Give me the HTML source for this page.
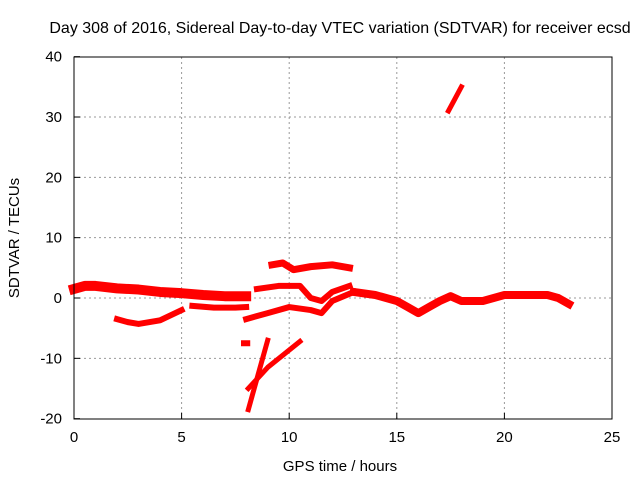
<!DOCTYPE html>
<html><head><meta charset="utf-8"><style>
body{margin:0;background:#fff;}
svg text{font-family:"Liberation Sans",sans-serif;font-size:15px;fill:#000;}
</style></head><body>
<svg id="chart" width="640" height="480" xmlns="http://www.w3.org/2000/svg">
<rect width="640" height="480" fill="#fff"/>
<text x="340" y="33" text-anchor="middle" style="font-size:16px">Day 308 of 2016, Sidereal Day-to-day VTEC variation (SDTVAR) for receiver ecsd</text>
<text x="340" y="471" text-anchor="middle">GPS time / hours</text>
<text transform="translate(19,238) rotate(-90)" text-anchor="middle">SDTVAR / TECUs</text>
<g id="grid"></g>
<g id="marks"></g>
<rect x="74" y="57" width="538" height="362" fill="none" stroke="#000" stroke-width="1"/>
<g id="ticks"></g>
</svg>
<script>
const xTicks=[0,5,10,15,20,25];
const yTicks=[-20,-10,0,10,20,30,40];
const trackMain=[[0,1.5],[0.5,2],[1,2],[2,1.6],[3,1.4],[4,1],[5,0.8],[6,0.5],[7,0.3],[8,0.3]];
const trackLow=[[5.5,-1.3],[6.5,-1.6],[7.5,-1.6],[8,-1.5]];
const trackB=[[2,-3.5],[2.5,-4],[3,-4.3],[4,-3.7],[5,-2]];
const trackC=[[8,-3.5],[9,-2.5],[10,-1.5],[11,-2],[11.5,-2.5],[12,-0.5],[13,1]];
const trackD=[[8.5,1.5],[9.5,2],[10.5,2],[11,0],[11.5,-0.5],[12,1],[12.8,2]];
const trackE=[[9.2,5.5],[9.7,5.8],[10.2,4.7],[11,5.2],[12,5.5],[12.8,5]];
const trackF=[[13,1],[14,0.5],[15,-0.5],[15.5,-1.5],[16,-2.5],[16.5,-1.5],[17,-0.5],[17.5,0.3],[18,-0.5],[19,-0.5],[19.5,0],[20,0.5],[21,0.5],[22,0.5],[22.5,0],[23,-1]];
const trackG=[[17.4,31],[17.7,33],[18,35]];
const trackH=[[8.1,-18.5],[9,-7]];
const trackI=[[8.1,-15],[9,-11.5],[10.5,-7.2]];
const trackJ=[[7.9,-7.5],[8.05,-7.5]];
const tracks=[trackMain,trackLow,trackB,trackC,trackD,trackE,trackF,trackG,trackH,trackI,trackJ];
const widths=[10,6,6,6,6,7,8,5,5,5,6];
const NS="http://www.w3.org/2000/svg";
const X=v=>74+v*538/25, Y=v=>298-v*362/60;
const grid=document.getElementById('grid'),ticks=document.getElementById('ticks'),marks=document.getElementById('marks');
function mk(t,a,p){const e=document.createElementNS(NS,t);for(const k in a)e.setAttribute(k,a[k]);p.appendChild(e);return e;}
xTicks.forEach(v=>{
 if(v>0&&v<25){const g=mk('line',{x1:X(v),x2:X(v),y1:57,y2:419,stroke:'#999','stroke-dasharray':'2,3'},grid);
 
 }
 const t=mk('line',{x1:X(v),x2:X(v),y1:419,y2:413,stroke:'#000'},ticks);
 
 
 const l=mk('text',{x:X(v),y:442,'text-anchor':'middle'},ticks);l.textContent=v;
 
 
});
yTicks.forEach(v=>{
 if(v>-20&&v<40){const g=mk('line',{x1:74,x2:612,y1:Y(v),y2:Y(v),stroke:'#999','stroke-dasharray':'2,3'},grid);
 
 }
 const t=mk('line',{x1:74,x2:80,y1:Y(v),y2:Y(v),stroke:'#000'},ticks);
 
 
 const l=mk('text',{x:62,y:Y(v)+5,'text-anchor':'end'},ticks);l.textContent=v;
 
 
});
tracks.forEach((tr,i)=>{
 const p=mk('polyline',{points:tr.map(d=>X(d[0])+','+Y(d[1])).join(' '),fill:'none',stroke:'#f00','stroke-width':widths[i],'stroke-linejoin':'round','stroke-linecap':'square'},marks);
 
 
});
</script>
</body></html>
